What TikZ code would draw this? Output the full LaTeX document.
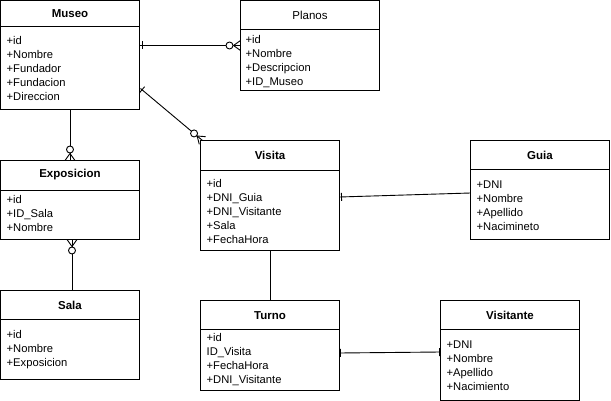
\documentclass[tikz,border=0pt]{standalone}
\usepackage{fontspec}
\setmainfont{Liberation Sans}
\usetikzlibrary{calc}
\tikzset{
  ent/.style={draw, line width=1pt, inner sep=0pt, outer sep=0pt, anchor=north west, minimum width=139pt},
  hdr/.style={line width=1pt},
  ttl/.style={font=\fontsize{11.5}{14}\selectfont\bfseries, inner sep=0pt},
  ttlplain/.style={font=\fontsize{11.5}{14}\selectfont, inner sep=0pt},
  attr/.style={font=\fontsize{11.2}{14}\selectfont, inner sep=0pt, anchor=base west},
  conn/.style={line width=0.9pt},
}
\newcommand\zmany[2]{%
  \draw[conn] ($(#1)!7pt!(#2)$) -- ($(#1)!5pt!90:(#2)$)
              ($(#1)!7pt!(#2)$) -- ($(#1)!5pt!-90:(#2)$);
  \draw[conn, fill=white] ($(#1)!11pt!(#2)$) circle (3.5pt);
}
\newcommand\onebar[3]{%
  \draw[conn] ($(#1)!#3!(#2)!4pt!90:(#2)$) -- ($(#1)!#3!(#2)!4pt!-90:(#2)$);
}
\begin{document}
\begin{tikzpicture}[x=1pt,y=-1pt]
\useasboundingbox (0,0) rectangle (611,401);

% Museo
\node[ent, minimum height=109pt] (museo) at (0.5,0.5) {};
\draw[hdr] ($(museo.north west)+(0,26)$) -- ($(museo.north east)+(0,26)$);
\node[ttl] (museo-t) at ($(museo.north)+(0,13)$) {Museo};
\foreach \t [count=\i] in {+id,+Nombre,+Fundador,+Fundacion,+Direccion}
  \node[attr] (museo-\i) at ($(museo.north west)+(6,30+14*\i)$) {\t};

% Planos
\node[ent, minimum height=90pt] (planos) at (240.5,0.5) {};
\draw[hdr] ($(planos.north west)+(0,29.5)$) -- ($(planos.north east)+(0,29.5)$);
\node[ttlplain] (planos-t) at ($(planos.north)+(0,15)$) {Planos};
\foreach \t [count=\i] in {+id,+Nombre,+Descripcion,+ID\_Museo}
  \node[attr] (planos-\i) at ($(planos.north west)+(5,29+14*\i)$) {\t};

% Exposicion
\node[ent, minimum height=79pt] (expo) at (0.5,160.5) {};
\draw[hdr] ($(expo.north west)+(0,30)$) -- ($(expo.north east)+(0,30)$);
\node[ttl] (expo-t) at ($(expo.north)+(0,14)$) {Exposicion};
\foreach \t [count=\i] in {+id,+ID\_Sala,+Nombre}
  \node[attr] (expo-\i) at ($(expo.north west)+(6,29+14*\i)$) {\t};

% Sala
\node[ent, minimum height=89pt] (sala) at (0.5,290.5) {};
\draw[hdr] ($(sala.north west)+(0,29)$) -- ($(sala.north east)+(0,29)$);
\node[ttl] (sala-t) at ($(sala.north)+(0,15)$) {Sala};
\foreach \t [count=\i] in {+id,+Nombre,+Exposicion}
  \node[attr] (sala-\i) at ($(sala.north west)+(6,34+14*\i)$) {\t};

% Visita
\node[ent, minimum height=110pt] (visita) at (200.5,140.5) {};
\draw[hdr] ($(visita.north west)+(0,30)$) -- ($(visita.north east)+(0,30)$);
\node[ttl] (visita-t) at ($(visita.north)+(0,15)$) {Visita};
\foreach \t [count=\i] in {+id,+DNI\_Guia,+DNI\_Visitante,+Sala,+FechaHora}
  \node[attr] (visita-\i) at ($(visita.north west)+(6,33+14*\i)$) {\t};

% Guia
\node[ent, minimum height=99pt] (guia) at (470.5,140.5) {};
\draw[hdr] ($(guia.north west)+(0,29)$) -- ($(guia.north east)+(0,29)$);
\node[ttl] (guia-t) at ($(guia.north)+(0,15)$) {Guia};
\foreach \t [count=\i] in {+DNI,+Nombre,+Apellido,+Nacimineto}
  \node[attr] (guia-\i) at ($(guia.north west)+(6,34+14*\i)$) {\t};

% Turno
\node[ent, minimum height=90pt] (turno) at (200.5,300.5) {};
\draw[hdr] ($(turno.north west)+(0,29)$) -- ($(turno.north east)+(0,29)$);
\node[ttl] (turno-t) at ($(turno.north)+(0,15)$) {Turno};
\foreach \t [count=\i] in {+id,ID\_Visita,+FechaHora,+DNI\_Visitante}
  \node[attr] (turno-\i) at ($(turno.north west)+(6,27+14*\i)$) {\t};

% Visitante
\node[ent, minimum height=100pt] (visitante) at (440.5,300.5) {};
\draw[hdr] ($(visitante.north west)+(0,29)$) -- ($(visitante.north east)+(0,29)$);
\node[ttl] (visitante-t) at ($(visitante.north)+(0,15)$) {Visitante};
\foreach \t [count=\i] in {+DNI,+Nombre,+Apellido,+Nacimiento}
  \node[attr] (visitante-\i) at ($(visitante.north west)+(6,34+14*\i)$) {\t};

% Connectors
\coordinate (c1a) at ($(museo.north east)+(0,45)$);
\coordinate (c1b) at (planos.west |- c1a);
\draw[conn] (c1a) -- (c1b);
\onebar{c1a}{c1b}{3pt}
\zmany{c1b}{c1a}

\coordinate (c2a) at ($(museo.north east)+(1,88)$);
\coordinate (c2b) at ($(visita.north west)+(2,0)$);
\draw[conn] (c2a) -- (c2b);
\onebar{c2a}{c2b}{2pt}
\zmany{c2b}{c2a}

\coordinate (c3a) at (museo.south);
\coordinate (c3b) at (expo.north);
\draw[conn] (c3a) -- (c3b);
\zmany{c3b}{c3a}

\coordinate (c4a) at ($(expo.south)+(2,0)$);
\coordinate (c4b) at ($(sala.north)+(2,0)$);
\draw[conn] (c4a) -- (c4b);
\zmany{c4a}{c4b}

\coordinate (c5a) at ($(visita.north east)+(0,56.5)$);
\coordinate (c5b) at ($(guia.north west)+(0,52.5)$);
\draw[conn] (c5a) -- (c5b);
\onebar{c5a}{c5b}{2pt}

\coordinate (c6a) at (visita.south);
\coordinate (c6b) at (turno.north);
\draw[conn] (c6a) -- (c6b);

\coordinate (c7a) at ($(turno.north east)+(0,52.5)$);
\coordinate (c7b) at ($(visitante.north west)+(0,51.5)$);
\draw[conn] (c7a) -- (c7b);
\onebar{c7a}{c7b}{1pt}
\onebar{c7b}{c7a}{1pt}
\end{tikzpicture}
\end{document}
